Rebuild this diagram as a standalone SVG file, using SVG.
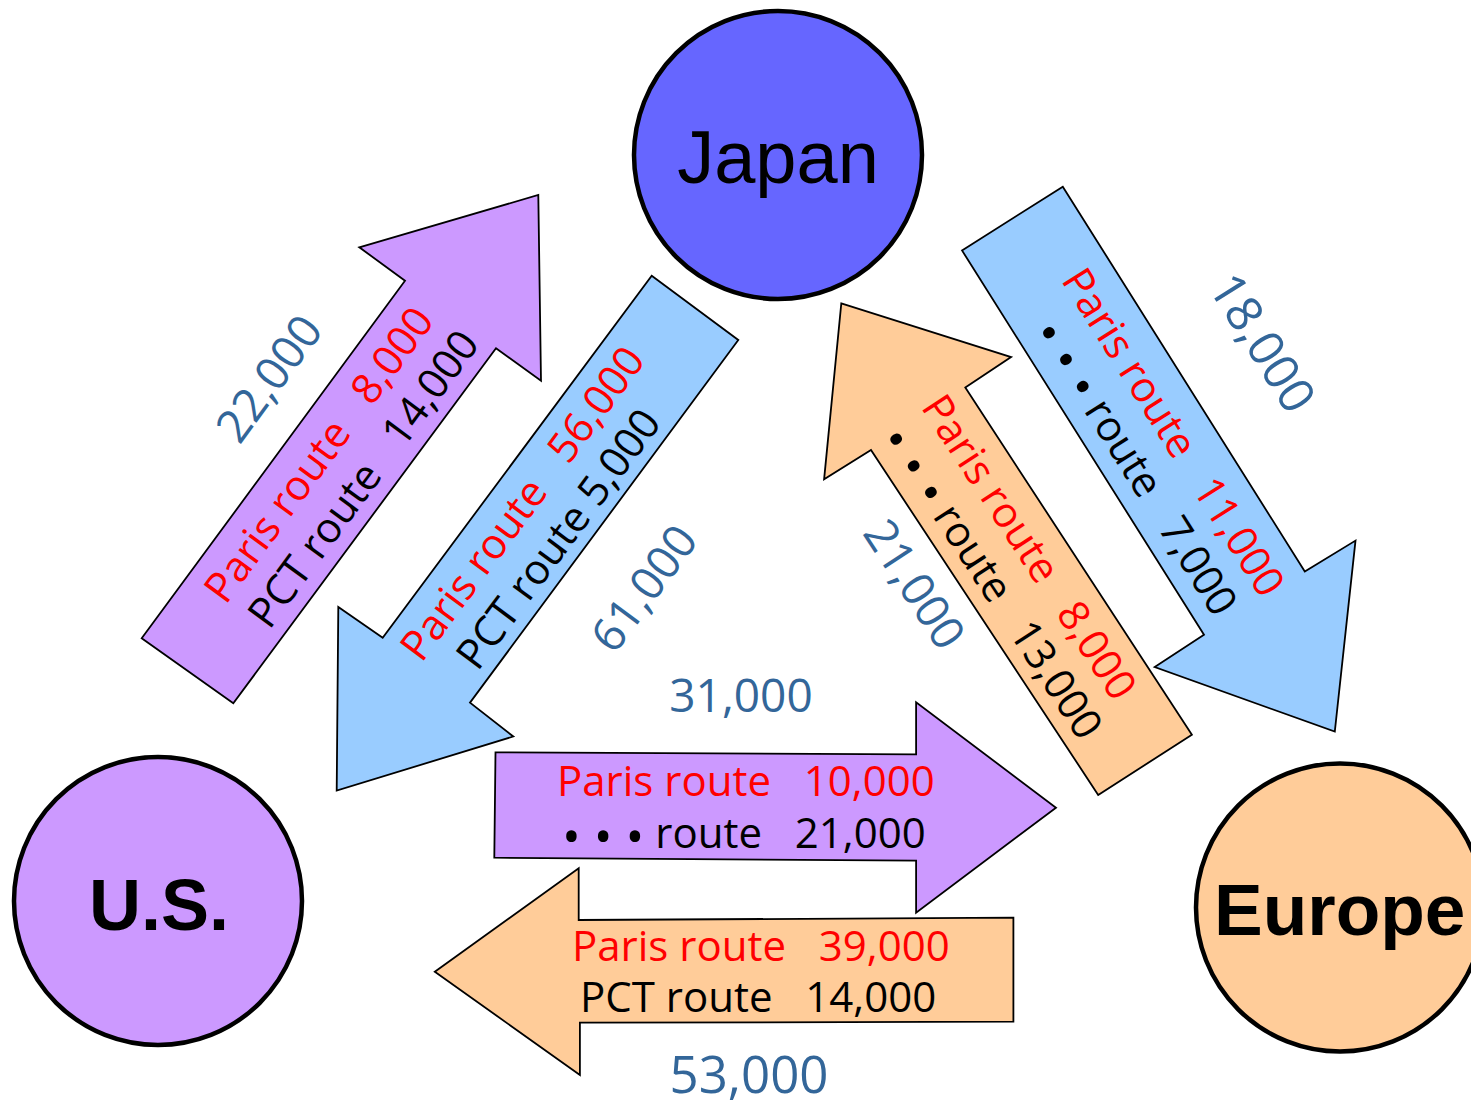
<svg xmlns="http://www.w3.org/2000/svg" width="1471" height="1104" viewBox="0 0 1471 1104">
<style>
.arrow{stroke:#000;stroke-width:1.8;stroke-linejoin:miter}
.purple{fill:#cc99ff}
.blue{fill:#99ccff}
.orange{fill:#ffcc99}
.t{font-family:"Open Sans","Noto Sans",sans-serif;font-size:42px;white-space:pre}
.red{fill:#ff0000}
.blk{fill:#000000}
.num{font-family:"Open Sans","Noto Sans",sans-serif;font-size:46px;fill:#336699}
.node circle{stroke:#000;stroke-width:4.5}
.node text{font-family:"Liberation Sans",Arial,sans-serif;fill:#000}
</style>
<rect width="1471" height="1104" fill="#fff"/>
<g id="connectors">
  <g id="us-to-japan">
    <polygon class="arrow purple" points="141.7,638.3 405,280.7 359.3,247.3 538.3,195 541,380.7 496,348.3 233.3,703.3"/>
    <text class="t red" xml:space="preserve" text-anchor="middle" transform="translate(330.5,463.3) rotate(-53.6)">Paris route   8,000</text>
    <text class="t blk" xml:space="preserve" text-anchor="middle" transform="translate(375,487.4) rotate(-53.6)">PCT route   14,000</text>
    <text class="num" text-anchor="middle" transform="translate(282,388) rotate(-53.6)">22,000</text>
  </g>
  <g id="japan-to-us">
    <polygon class="arrow blue" points="651.7,275.7 738.3,340 470,702.7 513.3,736.5 336.7,790.6 338.3,607 382.7,637.8"/>
    <text class="t red" xml:space="preserve" text-anchor="middle" transform="translate(534,512.2) rotate(-53.4)">Paris route   56,000</text>
    <text class="t blk" xml:space="preserve" text-anchor="middle" transform="translate(570,547.6) rotate(-53.4)">PCT route 5,000</text>
    <text class="num" text-anchor="middle" transform="translate(657,598) rotate(-53.4)">61,000</text>
  </g>
  <g id="japan-to-europe">
    <polygon class="arrow blue" points="962,250.4 1062.8,186.7 1304.8,571.5 1355.5,540.6 1334.8,731.6 1154.7,667.1 1204,634.7"/>
    <text class="t red" xml:space="preserve" text-anchor="middle" transform="translate(1161,440) rotate(57.85)">Paris route   11,000</text>
    <text class="t blk" xml:space="preserve" text-anchor="middle" transform="translate(1124,475) rotate(57.85)"><tspan font-size="50" dy="6">• • •</tspan><tspan dy="-6"> route   7,000</tspan></text>
    <text class="num" text-anchor="middle" transform="translate(1248,352) rotate(57.85)" style="font-size:49px">18,000</text>
  </g>
  <g id="europe-to-japan">
    <polygon class="arrow orange" points="841.3,303.4 1011.1,357.1 965.3,387.6 1191.9,734.8 1098.2,794.9 871,450 824.1,479.3"/>
    <text class="t red" xml:space="preserve" text-anchor="middle" transform="translate(1017,555) rotate(56.8)">Paris route   8,000</text>
    <text class="t blk" xml:space="preserve" text-anchor="middle" transform="translate(980.4,590.2) rotate(56.8)"><tspan font-size="50" dy="6">• • •</tspan><tspan dy="-6"> route   13,000</tspan></text>
    <text class="num" text-anchor="middle" transform="translate(901,593) rotate(56.8)">21,000</text>
  </g>
  <g id="us-to-europe">
    <polygon class="arrow purple" points="495.5,752.3 916.1,754.3 916.1,702.3 1056,807.7 916.1,912.7 916.1,860.7 494.3,857.7"/>
    <text class="t red" xml:space="preserve" x="557" y="796">Paris route   10,000</text>
    <text class="t blk" xml:space="preserve" x="562" y="848"><tspan font-size="50" dy="6">• • •</tspan><tspan dy="-6"> route   21,000</tspan></text>
    <text class="num" text-anchor="middle" x="741" y="712">31,000</text>
  </g>
  <g id="europe-to-us">
    <polygon class="arrow orange" points="434.8,971.7 578.7,868.3 578.7,920 1013.4,917.7 1013.4,1021.7 579.9,1022.7 579.9,1075"/>
    <text class="t red" xml:space="preserve" x="572" y="961">Paris route   39,000</text>
    <text class="t blk" xml:space="preserve" x="580" y="1012">PCT route   14,000</text>
    <text class="num" text-anchor="middle" x="749" y="1093" style="font-size:51px">53,000</text>
  </g>
</g>
<g id="node-japan" class="node">
  <circle cx="778" cy="155" r="144" fill="#6666ff"/>
  <text x="778" y="183" text-anchor="middle" font-size="74">Japan</text>
</g>
<g id="node-us" class="node">
  <circle cx="158" cy="901" r="144" fill="#cc99ff"/>
  <text x="159" y="930" text-anchor="middle" font-size="72" font-weight="bold">U.S.</text>
</g>
<g id="node-europe" class="node">
  <circle cx="1340" cy="907.5" r="144" fill="#ffcc99"/>
  <text x="1214" y="935" font-size="73" font-weight="bold">Europe</text>
</g>
</svg>
